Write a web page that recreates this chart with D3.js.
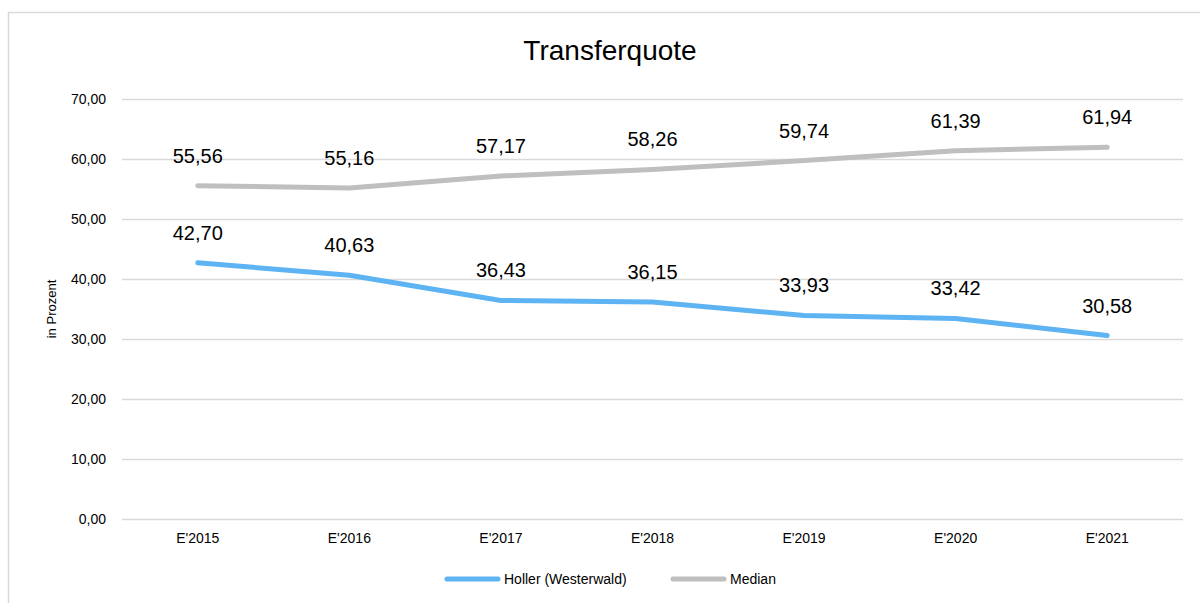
<!DOCTYPE html>
<html>
<head>
<meta charset="utf-8" />
<title>Transferquote</title>
<script src="https://d3js.org/d3.v7.min.js"></script>
<style>
  body { margin: 0; background: #fff; }
  svg { display: block; font-family: "Liberation Sans", Arial, sans-serif; }
  .grid line { stroke: #d9d9d9; stroke-width: 1.5; }
  .grid path { display: none; }
  .axis path, .axis line { display: none; }
  .axis text { fill: #000; font-size: 14px; }
</style>
</head>
<body>
<div id="viz"></div>
<script>
// chart data
var categories = ["E'2015", "E'2016", "E'2017", "E'2018", "E'2019", "E'2020", "E'2021"];
var holler = [42.70, 40.63, 36.43, 36.15, 33.93, 33.42, 30.58];
var median = [55.56, 55.16, 57.17, 58.26, 59.74, 61.39, 61.94];
var yTicks = [0, 10, 20, 30, 40, 50, 60, 70];
var seriesNames = ["Holler (Westerwald)", "Median"];

var W = 1200, H = 603;
var plotLeft = 122, plotRight = 1183, plotTop = 99, plotBottom = 519;

var fmt = function(v) { return v.toFixed(2).replace(".", ","); };

var svg = d3.select("#viz").append("svg")
    .attr("width", W)
    .attr("height", H);

// outer frame (right and bottom edges fall outside the picture)
svg.append("rect")
    .attr("x", 8.5).attr("y", 12.5)
    .attr("width", 1220).attr("height", 620)
    .attr("fill", "none")
    .attr("stroke", "#d9d9d9")
    .attr("stroke-width", 1.5);

var x = d3.scaleBand().domain(categories).range([plotLeft, plotRight]);
var y = d3.scaleLinear().domain([0, 70]).range([plotBottom, plotTop]);

// gridlines
svg.append("g")
    .attr("class", "grid")
    .attr("transform", "translate(" + plotLeft + ",0)")
    .call(d3.axisLeft(y).tickValues(yTicks).tickSize(-(plotRight - plotLeft)).tickFormat(""));

// y axis labels
svg.append("g")
    .attr("class", "axis")
    .attr("transform", "translate(" + (plotLeft - 13) + ",0)")
    .call(d3.axisLeft(y).tickValues(yTicks).tickSize(0).tickFormat(fmt))
  .selectAll("text")
    .attr("dy", "0.35em");

// x axis labels
svg.append("g")
    .attr("class", "axis")
    .attr("transform", "translate(0," + (plotBottom + 8) + ")")
    .call(d3.axisBottom(x).tickSize(0))
  .selectAll("text")
    .attr("dy", "0.9em");

// y axis title
svg.append("text")
    .attr("transform", "translate(56," + ((plotTop + plotBottom) / 2) + ") rotate(-90)")
    .attr("text-anchor", "middle")
    .attr("font-size", 13)
    .text("in Prozent");

// chart title
svg.append("text")
    .attr("x", 610).attr("y", 60)
    .attr("text-anchor", "middle")
    .attr("font-size", 28)
    .text("Transferquote");

var line = d3.line()
    .x(function(d, i) { return x(categories[i]) + x.bandwidth() / 2; })
    .y(function(d) { return y(d); });

var series = [
  { name: seriesNames[0], values: holler, color: "#5eb3f3" },
  { name: seriesNames[1], values: median, color: "#bfbfbf" }
];

series.slice().reverse().forEach(function(s) {
  svg.append("path")
      .datum(s.values)
      .attr("fill", "none")
      .attr("stroke", s.color)
      .attr("stroke-width", 5)
      .attr("stroke-linecap", "round")
      .attr("stroke-linejoin", "round")
      .attr("d", line);
});

series.forEach(function(s) {
  svg.append("g").selectAll("text")
    .data(s.values)
    .enter().append("text")
      .attr("x", function(d, i) { return x(categories[i]) + x.bandwidth() / 2; })
      .attr("y", function(d) { return y(d) - 23; })
      .attr("text-anchor", "middle")
      .attr("font-size", 20)
      .attr("fill", "#000")
      .text(fmt);
});

// legend
var legendX = [445, 671];
series.forEach(function(s, i) {
  var g = svg.append("g").attr("transform", "translate(" + legendX[i] + ",579)");
  g.append("line")
      .attr("x1", 2).attr("x2", 53)
      .attr("stroke", s.color)
      .attr("stroke-width", 5)
      .attr("stroke-linecap", "round");
  g.append("text")
      .attr("x", 59).attr("dy", "0.35em")
      .attr("font-size", 14)
      .text(s.name);
});
</script>
</body>
</html>
